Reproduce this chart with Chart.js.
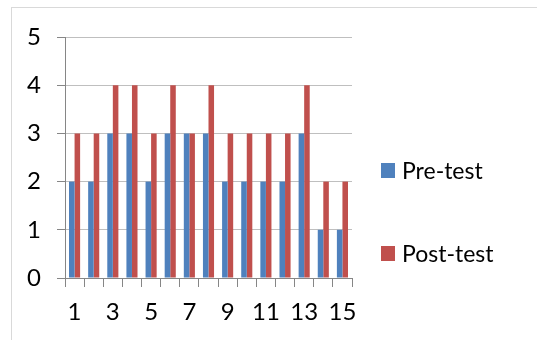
<!DOCTYPE html>
<html>
<head>
<meta charset="utf-8">
<script src="https://cdn.jsdelivr.net/npm/chart.js"></script>
<style>
  body { margin: 0; background: #fff; }
  #wrap { position: relative; width: 537px; height: 340px; }
  #frame { position: absolute; left: 11px; top: 7px; right: 0; bottom: 0;
           border-left: 1px solid #d9d9d9; border-top: 1px solid #d9d9d9; }
  canvas { position: absolute; left: 0; top: 0; }
  .leg { position: absolute; left: 381px; font: 23px Lato, sans-serif; color: #000;
         display: flex; align-items: center; }
  .leg span.box { width: 14px; height: 15px; margin-right: 7px; display: inline-block; }
</style>
</head>
<body>
<div id="wrap">
  <div id="frame"></div>
  <canvas id="chart" width="537" height="340"></canvas>
  <div class="leg" style="top:156px"><span class="box" style="background:#4F81BD"></span>Pre-test</div>
  <div class="leg" style="top:239px"><span class="box" style="background:#C0504D"></span>Post-test</div>
</div>
<script>
const labels = ["1","2","3","4","5","6","7","8","9","10","11","12","13","14","15"];
const preTest = [2, 2, 3, 3, 2, 3, 3, 3, 2, 2, 2, 2, 3, 1, 1];
const postTest = [3, 3, 4, 4, 3, 4, 3, 4, 3, 3, 3, 3, 4, 2, 2];

const ctx = document.getElementById("chart").getContext("2d");

new Chart(ctx, {
  type: "bar",
  data: {
    labels: labels,
    datasets: [
      { label: "Pre-test", data: preTest, backgroundColor: "#4F81BD" },
      { label: "Post-test", data: postTest, backgroundColor: "#C0504D" }
    ]
  },
  options: {
    responsive: false,
    animation: false,
    layout: { padding: { left: 0, top: 37, right: 185, bottom: 0 } },
    datasets: { bar: { categoryPercentage: 0.58, barPercentage: 1 } },
    plugins: { legend: { display: false }, tooltip: { enabled: false } },
    scales: {
      x: {
        afterFit: (s) => { s.height = 62; },
        grid: { offset: true, drawOnChartArea: false, tickLength: 9, tickColor: "#868686" },
        border: { color: "#868686" },
        ticks: {
          autoSkip: false,
          maxRotation: 0,
          padding: 11,
          color: "#000",
          font: { family: "Lato", size: 24 },
          callback: (v, i) => (i % 2 === 0 ? labels[i] : "")
        }
      },
      y: {
        min: 0,
        max: 5,
        afterFit: (s) => { s.width = 65; },
        grid: { color: "#BFBFBF", tickLength: 8, tickColor: "#868686" },
        border: { color: "#868686" },
        ticks: {
          stepSize: 1,
          padding: 16,
          color: "#000",
          font: { family: "Lato", size: 24 }
        }
      }
    }
  }
});
</script>
</body>
</html>
